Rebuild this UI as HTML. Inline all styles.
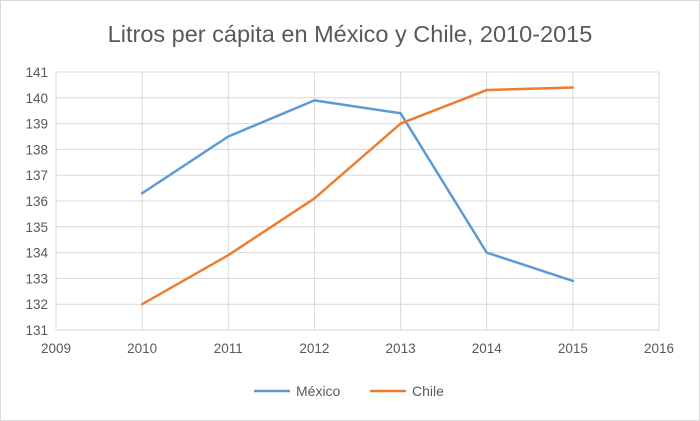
<!DOCTYPE html>
<html><head><meta charset="utf-8"><style>
body{margin:0;background:#fff}
svg{display:block;font-family:"Liberation Sans",sans-serif}
</style></head><body>
<svg id="c" width="700" height="421">
<rect x="0.5" y="0.5" width="699" height="420" fill="#fff" stroke="#d9d9d9"/>
<text x="350" y="42" text-anchor="middle" font-size="23.5" fill="#595959">Litros per cápita en México y Chile, 2010-2015</text>
<g id="grid"></g><g id="series"></g>
<g>
<line x1="254" y1="391" x2="290" y2="391" stroke="#5b9bd5" stroke-width="2.5"/>
<text x="296" y="396" font-size="14" fill="#595959">México</text>
<line x1="370" y1="391" x2="406" y2="391" stroke="#ed7d31" stroke-width="2.5"/>
<text x="412" y="396" font-size="14" fill="#595959">Chile</text>
</g>
</svg>
<script>
const years=[2010,2011,2012,2013,2014,2015];
const mexico=[136.3,138.5,139.9,139.4,134.0,132.9];
const chile=[132.0,133.9,136.1,139.0,140.3,140.4];
const xTicks=[2009,2010,2011,2012,2013,2014,2015,2016];
const yTicks=[131,132,133,134,135,136,137,138,139,140,141];
const NS="http://www.w3.org/2000/svg";
const L=56,R=659,T=72,B=330;
const xs=v=>L+(v-2009)/(2016-2009)*(R-L);
const ys=v=>B-(v-131)/(141-131)*(B-T);
const g=document.getElementById('grid'),s=document.getElementById('series');
function mk(tag,at,p){const e=document.createElementNS(NS,tag);for(const k in at)e.setAttribute(k,at[k]);p.appendChild(e);return e;}
yTicks.forEach(v=>{
 const l=mk('line',{x1:L,x2:R,y1:ys(v),y2:ys(v),stroke:'#d9d9d9'},g);
 
 
 const t=mk('text',{x:L-8,y:ys(v)+5,'text-anchor':'end','font-size':13.5,fill:'#595959'},g);t.textContent=v;
 
 
});
xTicks.forEach(v=>{
 const l=mk('line',{x1:xs(v),x2:xs(v),y1:T,y2:B,stroke:'#d9d9d9'},g);
 
 
 const t=mk('text',{x:xs(v),y:B+23,'text-anchor':'middle','font-size':13.5,fill:'#595959'},g);t.textContent=v;
 
 
});
function line(data,col,name){
 const p=mk('polyline',{points:data.map((v,i)=>xs(years[i])+','+ys(v)).join(' '),fill:'none',stroke:col,'stroke-width':2.5,'stroke-linejoin':'round','stroke-linecap':'round'},s);
 
 
}
line(mexico,'#5b9bd5','series-mexico');
line(chile,'#ed7d31','series-chile');
</script>
</body></html>
